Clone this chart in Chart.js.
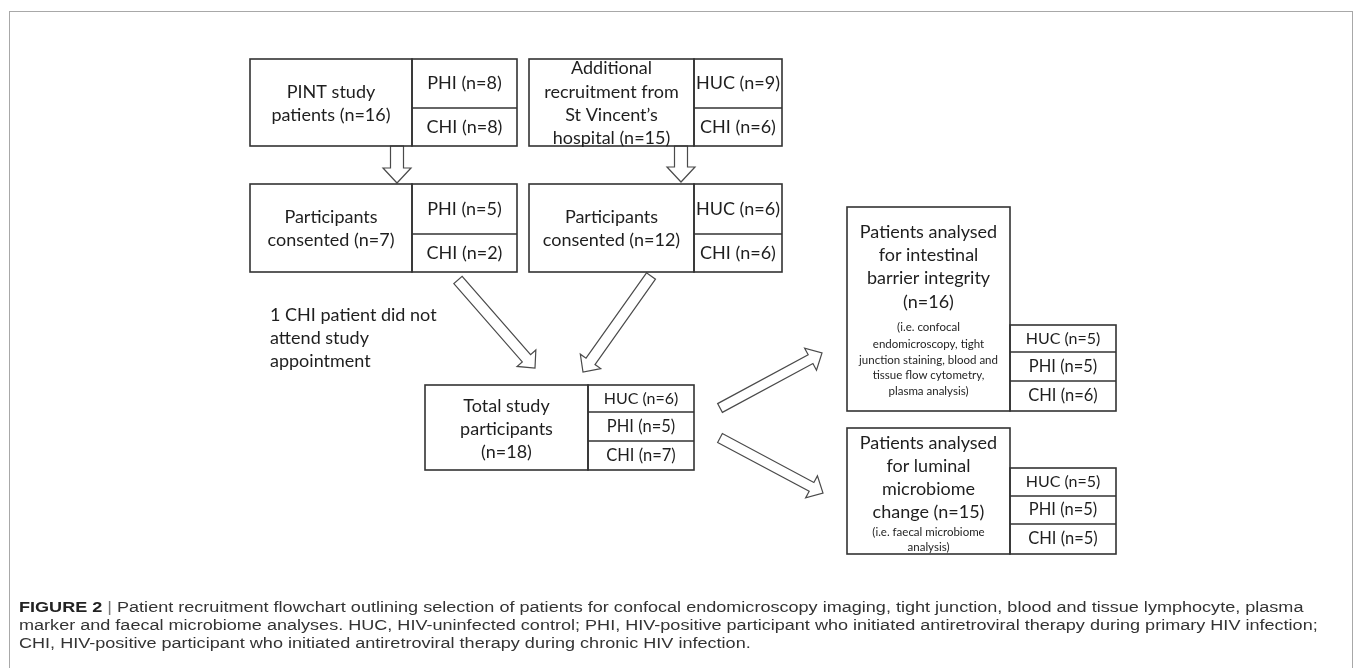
<!DOCTYPE html>
<html>
<head>
<meta charset="utf-8">
<script src="https://cdn.jsdelivr.net/npm/chart.js@4"></script>
<style>
  html, body { margin: 0; padding: 0; background: #fff; }
  #wrap { position: relative; width: 1355px; height: 668px; overflow: hidden; }
  #frame { position: absolute; left: 9px; top: 11px; width: 1344px; height: 700px;
    border: 1px solid #a8a8a8; box-sizing: border-box; }
  #chartBox { position: absolute; left: 0; top: 0; width: 1355px; height: 668px; }
  #cap { position: absolute; left: 19px; top: 598px; color: #333;
    font: 15.5px "Liberation Sans Narrow", "Arial Narrow", "Liberation Sans", sans-serif; line-height: 18px; }
  #cap div { white-space: nowrap; transform-origin: 0 0; }
  #cap b { color: #222; }
  #cap .bar { color: #777; font-weight: normal; }
</style>
</head>
<body>
<div id="wrap">
  <div id="frame"></div>
  <div id="chartBox"><canvas id="flow"></canvas></div>
  <div id="cap">
    <div><b>FIGURE 2</b> <span class="bar">|</span> Patient recruitment flowchart outlining selection of patients for confocal endomicroscopy imaging, tight junction, blood and tissue lymphocyte, plasma</div>
    <div>marker and faecal microbiome analyses. HUC, HIV-uninfected control; PHI, HIV-positive participant who initiated antiretroviral therapy during primary HIV infection;</div>
    <div>CHI, HIV-positive participant who initiated antiretroviral therapy during chronic HIV infection.</div>
  </div>
</div>
<script>
// flowchart content
const boxTitles = [
  ["PINT study", "patients (n=#)"],
  ["Participants", "consented (n=#)"],
  ["Additional", "recruitment from", "St Vincent\u2019s", "hospital (n=#)"],
  ["Participants", "consented (n=#)"],
  ["Total study", "participants", "(n=#)"],
  ["Patients analysed", "for intestinal", "barrier integrity", "(n=#)"],
  ["Patients analysed", "for luminal", "microbiome", "change (n=#)"]
];
const boxTotals = [16, 7, 15, 12, 18, 16, 15];
const boxNotes = [
  [], [], [], [], [],
  ["(i.e. confocal", "endomicroscopy, tight", "junction staining, blood and", "tissue flow cytometry,", "plasma analysis)"],
  ["(i.e. faecal microbiome", "analysis)"]
];
const groupLabels = [
  ["PHI", "CHI"],
  ["PHI", "CHI"],
  ["HUC", "CHI"],
  ["HUC", "CHI"],
  ["HUC", "PHI", "CHI"],
  ["HUC", "PHI", "CHI"],
  ["HUC", "PHI", "CHI"]
];
const groupCounts = [
  [8, 8],
  [5, 2],
  [9, 6],
  [6, 6],
  [6, 5, 7],
  [5, 5, 6],
  [5, 5, 5]
];
const sideNote = ["1 CHI patient did not", "attend study", "appointment"];

// layout (figure units = pixels of the figure)
const boxLayout = [
  { x0: 250, y0: 59, xd: 412, x1: 517, y1: 146, rows: [59, 108, 146], ty: [92, 115], fs: 18 },
  { x0: 250, y0: 184, xd: 412, x1: 517, y1: 272, rows: [184, 234, 272], ty: [217, 240], fs: 18 },
  { x0: 529, y0: 59, xd: 694, x1: 782, y1: 146, rows: [59, 108, 146], ty: [68, 92, 115, 138], fs: 18 },
  { x0: 529, y0: 184, xd: 694, x1: 782, y1: 272, rows: [184, 234, 272], ty: [217, 240], fs: 18 },
  { x0: 425, y0: 385, xd: 588, x1: 694, y1: 470, rows: [385, 412, 441, 470], ty: [406, 429, 452], fs: 16.5 },
  { x0: 847, y0: 207, xd: 1010, x1: 1116, y1: 411, rows: [325, 352, 381, 411], ty: [232, 255, 278, 302],
    ny: [327, 344, 360, 375, 391], fs: 16.5 },
  { x0: 847, y0: 428, xd: 1010, x1: 1116, y1: 554, rows: [468, 496, 524, 554], ty: [443, 466, 489, 512],
    ny: [532, 547], fs: 16.5 }
];
const arrowLayout = [
  { from: [397, 146], to: [397, 183], shaft: 13, head: 28, len: 15 },
  { from: [681, 146], to: [681, 182], shaft: 13, head: 28, len: 15 },
  { from: [458, 280], to: [535, 368], shaft: 11, head: 25, len: 13 },
  { from: [651, 276], to: [583, 372], shaft: 11, head: 25, len: 13 },
  { from: [720, 408], to: [822, 353], shaft: 10, head: 25, len: 13 },
  { from: [720, 438], to: [823, 493], shaft: 10, head: 25, len: 13 }
];
const sideNoteLayout = { x: 270, y: [315, 338, 361] };

const FONT = "Lato, 'Open Sans', sans-serif";
const INK = "#1e1e1e";

const flowPlugin = {
  id: "flow",
  afterDraw(chart) {
    const ctx = chart.ctx;
    const px = v => chart.scales.x.getPixelForValue(v);
    const py = v => chart.scales.y.getPixelForValue(v);
    ctx.save();

    // arrows
    arrowLayout.forEach(a => {
      const x0 = px(a.from[0]), y0 = py(a.from[1]);
      const x1 = px(a.to[0]), y1 = py(a.to[1]);
      const L = Math.hypot(x1 - x0, y1 - y0);
      const ux = (x1 - x0) / L, uy = (y1 - y0) / L;
      const nx = -uy, ny = ux;
      const bx = x1 - ux * a.len, by = y1 - uy * a.len;
      const s = a.shaft / 2, h = a.head / 2;
      ctx.beginPath();
      ctx.moveTo(x0 + nx * s, y0 + ny * s);
      ctx.lineTo(bx + nx * s, by + ny * s);
      ctx.lineTo(bx + nx * h, by + ny * h);
      ctx.lineTo(x1, y1);
      ctx.lineTo(bx - nx * h, by - ny * h);
      ctx.lineTo(bx - nx * s, by - ny * s);
      ctx.lineTo(x0 - nx * s, y0 - ny * s);
      ctx.closePath();
      ctx.fillStyle = "#fff";
      ctx.fill();
      ctx.strokeStyle = "#4a4a4a";
      ctx.lineWidth = 1.2;
      ctx.stroke();
    });

    // boxes
    ctx.strokeStyle = "#333";
    ctx.lineWidth = 1.6;
    ctx.fillStyle = INK;
    ctx.textAlign = "center";
    ctx.textBaseline = "middle";
    boxLayout.forEach((b, i) => {
      const r = b.rows;
      ctx.strokeRect(px(b.x0), py(b.y0), px(b.xd) - px(b.x0), py(b.y1) - py(b.y0));
      ctx.strokeRect(px(b.xd), py(r[0]), px(b.x1) - px(b.xd), py(r[r.length - 1]) - py(r[0]));
      for (let k = 1; k < r.length - 1; k++) {
        ctx.beginPath();
        ctx.moveTo(px(b.xd), py(r[k]));
        ctx.lineTo(px(b.x1), py(r[k]));
        ctx.stroke();
      }
      const cx = px((b.x0 + b.xd) / 2);
      ctx.font = "18px " + FONT;
      boxTitles[i].forEach((t, k) => {
        ctx.fillText(t.replace("#", boxTotals[i]), cx, py(b.ty[k]));
      });
      if (b.ny) {
        ctx.font = "11.5px " + FONT;
        boxNotes[i].forEach((t, k) => ctx.fillText(t, cx, py(b.ny[k])));
      }
      const gx = px((b.xd + b.x1) / 2);
      groupLabels[i].forEach((g, k) => {
        const fs = (g === "HUC" && r.length > 3) ? 16 : b.fs;
        ctx.font = fs + "px " + FONT;
        ctx.fillText(g + " (n=" + groupCounts[i][k] + ")", gx, py((r[k] + r[k + 1]) / 2));
      });
    });

    // side note
    ctx.textAlign = "left";
    ctx.font = "18px " + FONT;
    sideNote.forEach((t, k) => ctx.fillText(t, px(sideNoteLayout.x), py(sideNoteLayout.y[k])));
    ctx.restore();
  }
};

new Chart(document.getElementById("flow"), {
  type: "scatter",
  data: { datasets: [{ data: [], pointRadius: 0 }] },
  options: {
    responsive: true,
    maintainAspectRatio: false,
    animation: false,
    events: [],
    layout: { padding: 0 },
    plugins: { legend: { display: false }, tooltip: { enabled: false } },
    scales: {
      x: { type: "linear", min: 0, max: 1355, display: false },
      y: { type: "linear", min: 0, max: 668, reverse: true, display: false }
    }
  },
  plugins: [flowPlugin]
});

// fit caption lines to the figure's column width
const capLines = document.querySelectorAll("#cap div");
const w0 = capLines[0].scrollWidth;
const sx = 1299 / w0;
capLines.forEach(d => { d.style.transform = "scaleX(" + sx + ")"; });
</script>
</body>
</html>
